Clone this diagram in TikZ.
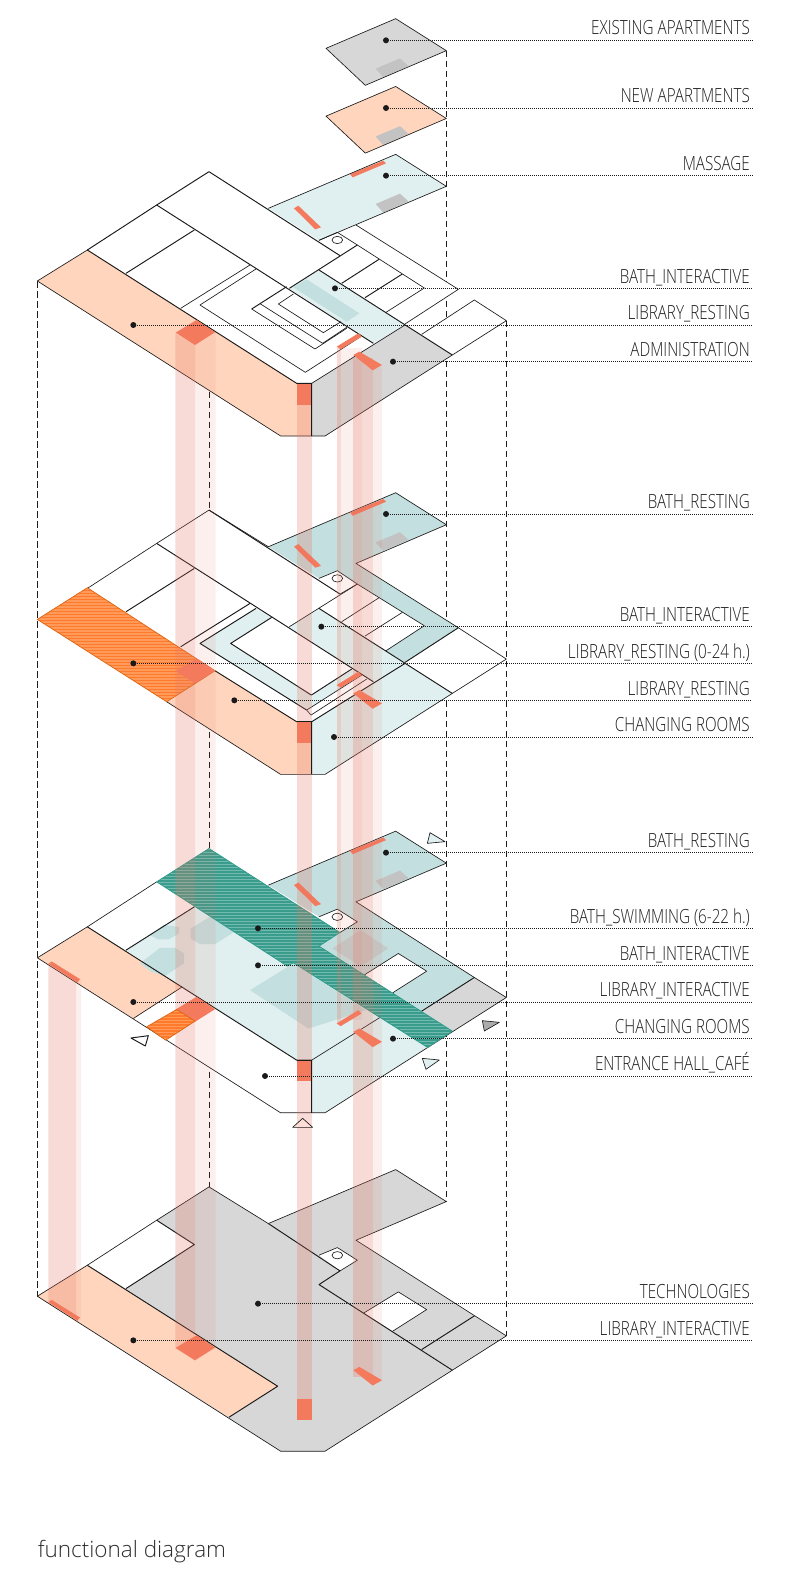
\documentclass[tikz,border=0pt]{standalone}
\usepackage{fontspec}
\setmainfont{Open Sans}
\newfontfamily\labfont[FakeStretch=0.78]{Open Sans Light}
\newfontfamily\capfont{Open Sans Light}
\definecolor{cOrange}{HTML}{FFD5BD}
\definecolor{cGrey}{HTML}{D7D7D7}
\definecolor{cGreyIn}{HTML}{C3C3C3}
\definecolor{cTeal}{HTML}{E0EFEF}
\definecolor{cTealMid}{HTML}{C4DFDF}
\definecolor{cRed}{HTML}{F47A5E}
\definecolor{cShaft}{HTML}{E7735F}
\definecolor{cHOrange}{HTML}{FF9A5A}
\definecolor{cHOrangeS}{HTML}{FF7A2A}
\definecolor{cHOrangeB}{HTML}{DD6410}
\definecolor{cHTeal}{HTML}{72BAAE}
\definecolor{cHTealS}{HTML}{3A9C8C}
\definecolor{cHTealB}{HTML}{2E9C8C}
\definecolor{cInk}{HTML}{1A1A1A}
\tikzset{
 thin edge/.style={draw=cInk,line width=0.65pt,line join=round},
 heavy edge/.style={draw=cInk,line width=0.95pt,line join=round},
 guide/.style={draw=cInk,line width=0.7pt,dash pattern=on 6.5pt off 3.5pt},
 leader/.style={draw=cInk,line width=0.8pt,dash pattern=on 1pt off 1pt},
 dot/.style={circle,fill=cInk,inner sep=0pt,minimum size=6pt},
 lbl/.style={anchor=base east,inner sep=0pt,text=black!88,font=\labfont\fontsize{19.5}{20}\selectfont},
 colA/.style={fill=cShaft,fill opacity=0.25},
 colB/.style={fill=cShaft,fill opacity=0.10},
 patch/.style={fill=cRed},
 floorb/.style={yshift=-338.4pt},
 floorc/.style={yshift=-676.8pt},
 floord/.style={yshift=-1015.2pt},
 plateb/.style={yshift=-67.8pt},
}
\newcommand{\lab}[4]{% id, dot x, y, label text (coordinates in 3x px)
 \node[dot] (d#1) at (#2,#3) {};
 \coordinate (e#1) at (2257,#3);
 \node[lbl] (l#1) at (2250,#3-16) {#4};
 \draw[leader] (d#1.center) -- (e#1);
}
\newcommand{\hatched}[4]{% path, base, stripe, border
 \fill[#2] #1;
 \begin{scope}\clip #1;
 \foreach \yy in {0,9,...,1500} {\draw[#3,line width=1.5pt] (0,\yy) -- (2000,\yy);}
 \end{scope}
 \draw[#4,line width=0.7pt,line join=round] #1;
}
\begin{document}
\begin{tikzpicture}[x=0.33333pt,y=-0.33333pt]
\useasboundingbox (0,0) rectangle (2415,4740);
\fill[white] (0,0) rectangle (2415,4740);

% ---- dashed verticals (behind everything)
\coordinate (gA1) at (1339,152); \coordinate (gA2) at (1339,3605);
\coordinate (gB1) at (1519,962); \coordinate (gB2) at (1519,4008);
\coordinate (gC1) at (112,843);  \coordinate (gC2) at (112,3890);
\coordinate (gD1) at (627,515);  \coordinate (gD2) at (627,3561);
\draw[guide] (gA1) -- (gA2);
\draw[guide] (gB1) -- (gB2);
\draw[guide] (gC1) -- (gC2);
\draw[guide] (gD1) -- (gD2);

% ---- plates
\fill[cGrey] (978,145) -- (1187,56) -- (1339,152) -- (1096,256) -- cycle;
\fill[cGreyIn] (1127,206) -- (1200,175) -- (1225,198) -- (1150,232) -- cycle;
\draw[thin edge] (978,145) -- (1187,56) -- (1339,152) -- (1096,256) -- cycle;
\begin{scope}[plateb]
\fill[cOrange] (978,145) -- (1187,56) -- (1339,152) -- (1096,256) -- cycle;
\fill[cGreyIn] (1127,206) -- (1200,175) -- (1225,198) -- (1150,232) -- cycle;
\draw[thin edge] (978,145) -- (1187,56) -- (1339,152) -- (1096,256) -- cycle;
\end{scope}

% ---- FLOOR 4 (bottom)
\begin{scope}[floord]
\fill[cGrey] (112,843) -- (262,750) -- (470,615) -- (627,515) -- (805,625) -- (1187,463) -- (1339,559) -- (1068,675) -- (1519,962) -- (1357,1065) -- (975,1308) -- (842,1308) -- cycle;
\fill[cOrange] (112,843) -- (262,750) -- (833,1113) -- (687,1206) -- cycle;
\fill[white] (262,750) -- (470,615) -- (583,688) -- (378,820) -- cycle;
\fill[white] (957,720) -- (1012,697) -- (1072,735) -- (1020,767) -- cycle;
\fill[white] (1195,830) -- (1280,883) -- (1178,948) -- (1092,893) -- cycle;
\draw[thin edge] (112,843) -- (262,750) -- (470,615) -- (627,515) -- (805,625) -- (1187,463) -- (1339,559) -- (1068,675) -- (1519,962) -- (1357,1065) -- (975,1308) -- (842,1308) -- cycle;
\draw[heavy edge] (262,750) -- (833,1113) -- (687,1206);
\draw[heavy edge] (470,615) -- (583,688) -- (378,820);
\draw[heavy edge] (805,625) -- (1020,767) -- (957,808) -- (1357,1065);
\draw[thin edge] (957,720) -- (1012,697) -- (1072,735) -- (1020,767);
\draw[thin edge] (1092,893) -- (1195,830) -- (1280,883) -- (1178,948);
\draw[heavy edge] (1265,1003) -- (1423,902);
\draw[thin edge] (1012,720) ellipse [x radius=16,y radius=11];
\end{scope}

% ---- FLOOR 3
\begin{scope}[floorc]
\fill[white] (112,843) -- (262,750) -- (470,615) -- (627,515) -- (805,625) -- (1187,463) -- (1339,559) -- (1068,675) -- (1519,962) -- (1357,1065) -- (975,1308) -- (842,1308) -- cycle;
\fill[cOrange] (112,843) -- (262,750) -- (547,930) -- (400,1025) -- cycle;
\fill[cTeal] (378,820) -- (583,690) -- (880,858) -- (1215,975) -- (935,1150) -- (890,1150) -- cycle;
\fill[cTeal] (935,1150) -- (1215,975) -- (1357,1065) -- (975,1308) -- (935,1308) -- cycle;
\fill[cTealMid] (805,625) -- (1187,463) -- (1339,559) -- (1068,675) -- (1423,902) -- (1265,1003) -- (957,808) -- (1020,767) -- (1072,735) -- (1012,697) -- (957,720) -- cycle;
\fill[white] (957,720) -- (1012,697) -- (1072,735) -- (1020,767) -- cycle;
\fill[white] (1195,830) -- (1280,883) -- (1178,948) -- (1092,895) -- cycle;
\fill[cGrey] (1423,902) -- (1519,963) -- (1357,1065) -- (1265,1003) -- cycle;
\fill[cGreyIn!70!cTealMid] (997,815) -- (1082,760) -- (1165,815) -- (1082,868) -- cycle;
\fill[cTealMid] (750,940) -- (880,860) -- (1100,1000) -- (925,1055) -- cycle;
\fill[cTealMid] (420,860) -- (480,813) -- (525,813) -- (552,830) -- (552,860) -- (495,897) -- (455,885) -- cycle;
\fill[cTealMid] (450,775) -- (490,745) -- (537,750) -- (537,770) -- (505,788) -- (475,788) -- cycle;
\fill[cTealMid] (572,755) -- (630,720) -- (685,745) -- (700,767) -- (645,802) -- (600,802) -- (572,785) -- cycle;
\draw[thin edge] (112,843) -- (262,750) -- (470,615);
\draw[thin edge] (805,625) -- (1187,463) -- (1339,559) -- (1068,675) -- (1423,902) -- (1519,962) -- (1357,1065) -- (975,1308) -- (842,1308) -- (112,843);
\draw[heavy edge] (262,750) -- (890,1150) -- (935,1150) -- (935,1308);
\draw[heavy edge] (583,690) -- (378,820);
\draw[thin edge] (547,930) -- (400,1025);
\draw[thin edge] (935,1150) -- (1215,975);
\draw[thin edge] (957,720) -- (1012,697) -- (1072,735) -- (1020,767);
\draw[thin edge] (1092,895) -- (1195,830) -- (1280,883) -- (1178,948);
\draw[heavy edge] (1265,1003) -- (1423,902);
\draw[thin edge] (1012,720) ellipse [x radius=16,y radius=11];
\fill[cRed] (1050,522) -- (1150,482) -- (1158,490) -- (1058,532) -- cycle;
\fill[cRed] (882,625) -- (895,617) -- (963,682) -- (946,688) -- cycle;
\fill[cGreyIn] (1127,612) -- (1200,581) -- (1225,604) -- (1150,638) -- cycle;
\hatched{(470,615) -- (627,515) -- (1020,767) -- (957,808) -- (1357,1063) -- (1283,1112) -- (880,858) -- (862,868) -- cycle}{cHTeal}{cHTealS}{cHTealB}
\end{scope}

% ---- FLOOR 2
\begin{scope}[floorb]
\fill[white] (112,843) -- (262,750) -- (470,615) -- (627,515) -- (805,625) -- (1187,463) -- (1339,559) -- (1068,675) -- (1375,868) -- (1519,962) -- (1357,1065) -- (975,1308) -- (842,1308) -- cycle;
\fill[cOrange] (645,997) -- (890,1150) -- (935,1150) -- (935,1308) -- (842,1308) -- (500,1090) -- cycle;
\fill[cTealMid] (805,625) -- (1187,463) -- (1339,559) -- (1068,675) -- (1375,868) -- (1215,972) -- (1158,937) -- (1273,862) -- (1072,737) -- (1012,697) -- (957,720) -- cycle;
\fill[white] (957,720) -- (1012,697) -- (1072,737) -- (1020,767) -- cycle;
\fill[cTeal] (957,810) -- (1215,975) -- (1120,1030) -- (868,865) -- cycle;
\fill[cTeal] (600,915) -- (768,810) -- (815,837) -- (692,915) -- (934,1070) -- (1055,992) -- (1085,1010) -- (920,1115) -- cycle;
\fill[cTeal] (935,1150) -- (1215,975) -- (1357,1065) -- (975,1308) -- (935,1308) -- cycle;
\draw[thin edge] (262,750) -- (470,615) -- (627,515) -- (805,625) -- (1187,463) -- (1339,559) -- (1068,675) -- (1375,868) -- (1519,962) -- (1357,1065) -- (975,1308) -- (842,1308) -- (500,1090);
\draw[heavy edge] (470,615) -- (1120,1030);
\draw[heavy edge] (627,515) -- (1020,767);
\draw[heavy edge] (583,690) -- (378,820);
\draw[heavy edge] (645,997) -- (890,1150) -- (935,1150) -- (935,1308);
\draw[thin edge] (957,720) -- (1012,697) -- (1072,737) -- (1020,767);
\draw[heavy edge] (957,810) -- (1357,1065);
\draw[thin edge] (868,865) -- (1072,737);
\draw[thin edge] (1137,778) -- (1025,850);
\draw[thin edge] (1207,822) -- (1095,893);
\draw[thin edge] (1072,737) -- (1273,862) -- (1158,937);
\draw[heavy edge] (1375,868) -- (1215,972);
\draw[heavy edge] (1215,975) -- (935,1150);
\draw[heavy edge] (750,795) -- (542,925);
\draw[heavy edge] (768,810) -- (600,915) -- (920,1115);
\draw[thin edge] (920,1115) -- (1085,1010);
\draw[thin edge] (933,1130) -- (1100,1022);
\draw[thin edge] (920,1115) -- (933,1130);
\draw[heavy edge] (815,837) -- (692,915) -- (934,1070) -- (1055,992);
\draw[thin edge] (1012,720) ellipse [x radius=16,y radius=11];
\fill[cRed] (1050,522) -- (1150,482) -- (1158,490) -- (1058,532) -- cycle;
\fill[cRed] (882,625) -- (895,617) -- (963,682) -- (946,688) -- cycle;
\fill[cGreyIn] (1127,612) -- (1200,581) -- (1225,604) -- (1150,638) -- cycle;
\hatched{(112,843) -- (262,748) -- (645,997) -- (500,1090) -- cycle}{cHOrange}{cHOrangeS}{cHOrangeB}
\end{scope}

% ---- FLOOR 1 (top)
\fill[white] (112,843) -- (262,750) -- (470,615) -- (627,515) -- (805,625) -- (957,721) -- (1068,675) -- (1375,868) -- (1215,972) -- (1265,1003) -- (1423,900) -- (1519,962) -- (1357,1065) -- (975,1308) -- (842,1308) -- cycle;
\fill[cOrange] (112,843) -- (262,750) -- (890,1150) -- (935,1150) -- (935,1308) -- (842,1308) -- cycle;
\fill[cGrey] (935,1150) -- (1215,975) -- (1357,1065) -- (975,1308) -- (935,1308) -- cycle;
\fill[cTeal] (957,810) -- (1215,975) -- (1120,1030) -- (868,865) -- cycle;
\fill[cTealMid] (920,838) -- (1078,940) -- (1040,965) -- (880,862) -- cycle;
\fill[cTeal] (805,625) -- (1187,463) -- (1339,559) -- (957,721) -- cycle;
\fill[cRed] (1050,522) -- (1150,482) -- (1158,490) -- (1058,532) -- cycle;
\fill[cRed] (882,625) -- (895,617) -- (963,682) -- (946,688) -- cycle;
\fill[cGreyIn] (1127,612) -- (1200,581) -- (1225,604) -- (1150,638) -- cycle;
\draw[thin edge] (805,625) -- (1187,463) -- (1339,559) -- (957,721);
\draw[thin edge] (112,843) -- (262,750);
\draw[heavy edge] (262,750) -- (470,615) -- (627,515) -- (1020,767);
\draw[thin edge] (112,843) -- (842,1308) -- (975,1308) -- (1357,1065) -- (1519,962) -- (1423,900) -- (1265,1003);
\draw[heavy edge] (262,750) -- (890,1150) -- (935,1150) -- (935,1308);
\draw[heavy edge] (470,615) -- (1120,1030);
\draw[heavy edge] (583,690) -- (378,820);
\draw[heavy edge] (957,810) -- (1357,1065);
\draw[heavy edge] (868,865) -- (1072,735);
\draw[thin edge] (957,721) -- (1012,697) -- (1072,735);
\draw[thin edge] (1012,720) ellipse [x radius=16,y radius=11];
\draw[thin edge] (1068,675) -- (1375,868) -- (1215,972);
\draw[thin edge] (1072,735) -- (1273,864) -- (1158,937);
\draw[heavy edge] (1137,778) -- (1025,850);
\draw[heavy edge] (1207,822) -- (1095,893);
\draw[thin edge] (935,1150) -- (1215,975);
\draw[thin edge] (750,795) -- (542,925);
\draw[thin edge] (768,807) -- (600,915) -- (916,1117) -- (1082,1010);
\draw[heavy edge] (860,860) -- (755,927);
\draw[thin edge] (755,927) -- (945,1047) -- (1040,985);
\draw[thin edge] (780,911) -- (968,1030) -- (1040,982);
\draw[thin edge] (880,882) -- (835,912) -- (970,998) -- (1023,965);

% ---- circulation columns
\fill[colA] (526,1000) -- (585,1035) -- (585,4082) -- (526,4045) -- cycle;
\fill[colB] (585,1035) -- (647,998) -- (647,4045) -- (585,4082) -- cycle;
\fill[colA] (892,1215) rectangle (935,4196);
\fill[colA] (1011,1044) rectangle (1023,3070);
\fill[colB] (1023,1044) rectangle (1087,3060);
\fill[colA] (1058,1075) rectangle (1118,4130);
\fill[colB] (1118,1100) rectangle (1146,4140);
\fill[colA] (145,2891) -- (228,2945) -- (228,3955) -- (145,3905) -- cycle;
\fill[colB] (228,2945) -- (243,2937) -- (243,3960) -- (228,3955) -- cycle;

% ---- red shaft patches on every floor
\foreach \k in {0,1015.2,2030.4,3045.6} {
  \fill[patch] (527,998+\k) -- (590,960+\k) -- (645,997+\k) -- (585,1035+\k) -- cycle;
  \fill[patch] (892,1150+\k) rectangle (935,1214+\k);
  \fill[patch] (1060,1065+\k) -- (1078,1055+\k) -- (1146,1095+\k) -- (1118,1111+\k) -- cycle;
}
\foreach \k in {0,1015.2,2030.4} {
  \fill[patch] (1010,1040+\k) -- (1075,1000+\k) -- (1085,1010+\k) -- (1022,1048+\k) -- cycle;
}
\foreach \k in {2030.4,3045.6} {
  \fill[patch] (145,861+\k) -- (155,854+\k) -- (240,907+\k) -- (232,917+\k) -- cycle;
}
\draw[heavy edge] (935,1150) -- (935,1308);
\draw[heavy edge] (890,1150) -- (935,1150);
\begin{scope}[floorb]
\draw[heavy edge] (935,1150) -- (935,1308);
\draw[heavy edge] (890,1150) -- (935,1150);
\end{scope}
\begin{scope}[floorc]
\draw[heavy edge] (935,1150) -- (935,1308);
\draw[heavy edge] (890,1150) -- (935,1150);
\hatched{(440,1050) -- (530,998) -- (585,1033) -- (497,1090) -- cycle}{cHOrange}{cHOrangeS}{cHOrangeB}
\end{scope}

% ---- view triangles
\draw[thin edge,fill=cTeal] (1290,2498) -- (1335,2525) -- (1282,2530) -- cycle;
\draw[thin edge,fill=cGrey!80!black] (1447,3062) -- (1498,3067) -- (1453,3093) -- cycle;
\draw[thin edge,fill=cTeal] (1267,3175) -- (1318,3180) -- (1278,3208) -- cycle;
\draw[heavy edge,fill=white] (393,3114) -- (445,3107) -- (436,3138) -- cycle;
\draw[thin edge,fill=cRed!25] (878,3382) -- (908,3355) -- (938,3382) -- cycle;

% ---- labels and leaders
\lab{a}{1158}{121}{EXISTING APARTMENTS}
\lab{b}{1158}{324}{NEW APARTMENTS}
\lab{c}{1158}{527}{MASSAGE}
\lab{d}{1005}{865}{BATH\_INTERACTIVE}
\lab{e}{400}{975}{LIBRARY\_RESTING}
\lab{f}{1179}{1085}{ADMINISTRATION}
\lab{g}{1158}{1542}{BATH\_RESTING}
\lab{h}{964}{1880}{BATH\_INTERACTIVE}
\lab{i}{400}{1990}{LIBRARY\_RESTING (0-24 h.)}
\lab{j}{703}{2101}{LIBRARY\_RESTING}
\lab{k}{1002}{2211}{CHANGING ROOMS}
\lab{m}{1158}{2558}{BATH\_RESTING}
\lab{n}{774}{2785}{BATH\_SWIMMING (6-22 h.)}
\lab{o}{774}{2896}{BATH\_INTERACTIVE}
\lab{p}{400}{3006}{LIBRARY\_INTERACTIVE}
\lab{q}{1179}{3116}{CHANGING ROOMS}
\lab{r}{795}{3228}{ENTRANCE HALL\_CAFÉ}
\lab{s}{774}{3911}{TECHNOLOGIES}
\lab{t}{400}{4021}{LIBRARY\_INTERACTIVE}

\node[anchor=base west,inner sep=0pt,text=black!82,font=\capfont\fontsize{22.5}{24}\selectfont] (cap) at (113,4671) {functional diagram};
\end{tikzpicture}
\end{document}
